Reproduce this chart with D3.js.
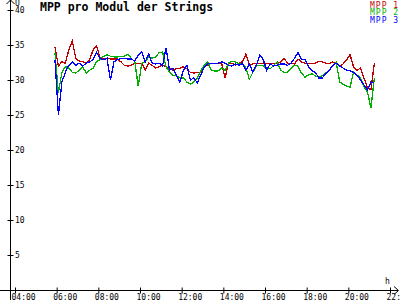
<!DOCTYPE html>
<html>
<head>
<meta charset="utf-8">
<script src="https://cdn.jsdelivr.net/npm/d3@7"></script>
<style>
  body { margin: 0; background: #fff; }
  svg { display: block; }
  text { font-family: "DejaVu Sans Mono", monospace; }
</style>
</head>
<body>
<svg id="chart" width="400" height="300"></svg>
<script>
// time stamps (every 10 min)
var times = ["05:55","06:05","06:15","06:25","06:35","06:45","06:55","07:05","07:15","07:25",
  "07:35","07:45","07:55","08:05","08:15","08:25","08:35","08:45","08:55","09:05",
  "09:15","09:25","09:35","09:45","09:55","10:05","10:15","10:25","10:35","10:45",
  "10:55","11:05","11:15","11:25","11:35","11:45","11:55","12:05","12:15","12:25",
  "12:35","12:45","12:55","13:05","13:15","13:25","13:35","13:45","13:55","14:05",
  "14:15","14:25","14:35","14:45","14:55","15:05","15:15","15:25","15:35","15:45",
  "15:55","16:05","16:15","16:25","16:35","16:45","16:55","17:05","17:15","17:25",
  "17:35","17:45","17:55","18:05","18:15","18:25","18:35","18:45","18:55","19:05",
  "19:15","19:25","19:35","19:45","19:55","20:05","20:15","20:25","20:35","20:45",
  "20:55","21:05","21:15"];

var mpp1 = [34.7,32.0,32.6,32.4,34.3,35.6,33.1,32.7,32.6,32.4,
  32.9,34.3,34.9,33.1,33.1,33.1,33.0,33.0,33.0,32.6,
  32.1,32.0,32.1,32.4,32.4,32.4,31.4,32.4,32.1,31.7,
  31.9,32.1,31.9,31.6,31.4,31.6,31.7,31.9,31.6,31.1,
  31.0,31.1,31.1,31.9,32.1,32.4,32.4,32.4,32.4,30.3,
  32.4,32.4,32.1,32.4,32.6,33.7,32.1,32.3,32.4,32.4,
  32.4,32.4,32.3,32.4,32.4,32.6,33.1,32.4,32.4,32.3,
  33.0,32.6,32.4,32.4,32.4,32.4,32.7,32.6,32.4,32.3,
  32.6,32.3,32.0,32.3,32.9,33.6,31.9,31.4,31.7,30.3,
  28.9,28.6,32.4];

var mpp2 = [33.9,28.1,31.1,31.9,31.7,31.1,31.0,31.4,31.9,31.0,
  31.4,31.7,32.6,32.9,33.4,33.6,33.4,33.3,33.3,33.4,
  33.4,33.7,33.1,32.6,29.1,32.4,32.6,33.3,33.1,33.3,
  33.9,34.0,31.9,31.1,30.6,30.6,30.3,30.3,29.7,29.4,
  29.7,30.3,31.3,32.1,32.6,31.4,31.3,31.3,31.7,31.4,
  32.4,32.7,32.6,32.3,32.4,31.7,30.1,31.1,32.0,32.1,
  32.0,31.7,31.6,32.1,32.6,31.4,31.1,31.1,31.7,32.1,
  32.0,31.0,30.4,30.7,30.9,30.6,30.4,30.6,31.0,31.4,
  32.1,32.6,29.7,29.4,29.1,29.0,31.1,30.7,30.3,29.0,
  28.3,26.0,30.3];

var mpp3 = [32.9,25.0,29.7,31.1,32.1,32.6,32.1,32.4,32.0,32.4,
  32.6,32.9,33.9,33.1,32.9,33.1,30.0,32.6,32.9,33.1,
  33.1,33.0,33.0,32.7,33.6,34.0,32.6,33.7,32.4,32.3,
  32.4,32.0,34.6,31.4,31.7,30.6,29.7,31.4,32.1,30.0,
  30.3,29.6,30.7,31.9,32.3,32.4,32.4,32.4,32.6,32.4,
  32.1,32.0,32.3,32.1,32.4,31.4,32.3,31.1,32.1,33.6,
  32.9,31.4,32.3,32.0,32.1,32.3,32.3,32.1,32.4,33.1,
  33.9,32.9,32.9,31.9,31.3,31.1,30.3,30.3,30.9,31.4,
  32.1,32.4,32.0,31.7,31.4,31.3,31.1,30.7,30.0,29.3,
  28.6,29.7,29.6];

var seriesNames = ["MPP 1", "MPP 2", "MPP 3"];
var seriesColors = ["#c00000", "#00b000", "#0000ff"];
var yTicks = [5, 10, 15, 20, 25, 30, 35, 40];
var xTicks = [4, 6, 8, 10, 12, 14, 16, 18, 20, 22];

var svg = d3.select("#chart");

var x = d3.scaleLinear().domain([4, 22]).range([15, 390]);
var y = d3.scaleLinear().domain([0, 40]).range([290, 10]);

function hours(s) {
  var p = s.split(":");
  return +p[0] + (+p[1]) / 60;
}

// axes lines with arrows
svg.append("line").attr("x1", 0).attr("x2", 398).attr("y1", 290.5).attr("y2", 290.5)
  .attr("stroke", "#000");
svg.append("path").attr("d", "M394,286.5 L398.5,290.5 L394,294.5")
  .attr("fill", "none").attr("stroke", "#000");
svg.append("line").attr("x1", 10.5).attr("x2", 10.5).attr("y1", 300).attr("y2", 0)
  .attr("stroke", "#000");
svg.append("path").attr("d", "M6.5,4 L10.5,0 L14.5,4")
  .attr("fill", "none").attr("stroke", "#000");

// y axis
var yAxis = d3.axisRight(y).tickValues(yTicks).tickSize(0).tickPadding(0);
var gy = svg.append("g").attr("transform", "translate(10.5,0)").call(yAxis);
gy.select(".domain").remove();
gy.selectAll(".tick line").attr("x1", -3).attr("x2", 3).attr("stroke", "#000");
gy.selectAll(".tick text").attr("x", 4.5).attr("dy", "0.35em")
  .attr("font-size", 8).attr("fill", "#000");

// x axis
var xAxis = d3.axisBottom(x).tickValues(xTicks).tickSize(0).tickPadding(0)
  .tickFormat(function(d) { return (d < 10 ? "0" : "") + d + ":00"; });
var gx = svg.append("g").attr("transform", "translate(0,290.5)").call(xAxis);
gx.select(".domain").remove();
gx.selectAll(".tick line").attr("y1", -3).attr("y2", 3).attr("stroke", "#000");
gx.selectAll(".tick text").attr("text-anchor", "start").attr("x", -4).attr("y", 9)
  .attr("dy", 0).attr("font-size", 8).attr("fill", "#000");
svg.selectAll(".tick text").style("font-family", "'DejaVu Sans Mono', monospace");

// unit labels
svg.append("text").attr("x", 15).attr("y", 6).attr("font-size", 8).text("U");
svg.append("text").attr("x", 385).attr("y", 284).attr("font-size", 8).text("h");

// lines
var line = d3.line()
  .x(function(d) { return x(hours(d.t)); })
  .y(function(d) { return y(d.v); });

[mpp1, mpp2, mpp3].forEach(function(vals, k) {
  var pts = vals.map(function(v, i) { return {t: times[i], v: v}; });
  svg.append("path")
    .datum(pts)
    .attr("d", line)
    .attr("fill", "none")
    .attr("stroke", seriesColors[k])
    .attr("stroke-width", 1.3)
    .attr("shape-rendering", "crispEdges");
});

// title
svg.append("text").attr("x", 40).attr("y", 11)
  .attr("font-size", 11.5).attr("font-weight", "bold")
  .text("MPP pro Modul der Strings");

// legend
seriesNames.forEach(function(n, k) {
  svg.append("text")
    .attr("x", 370).attr("y", 7.5 + k * 7.7)
    .attr("font-size", 8)
    .attr("letter-spacing", 1)
    .attr("fill", seriesColors[k])
    .text(n);
});
</script>
</body>
</html>
